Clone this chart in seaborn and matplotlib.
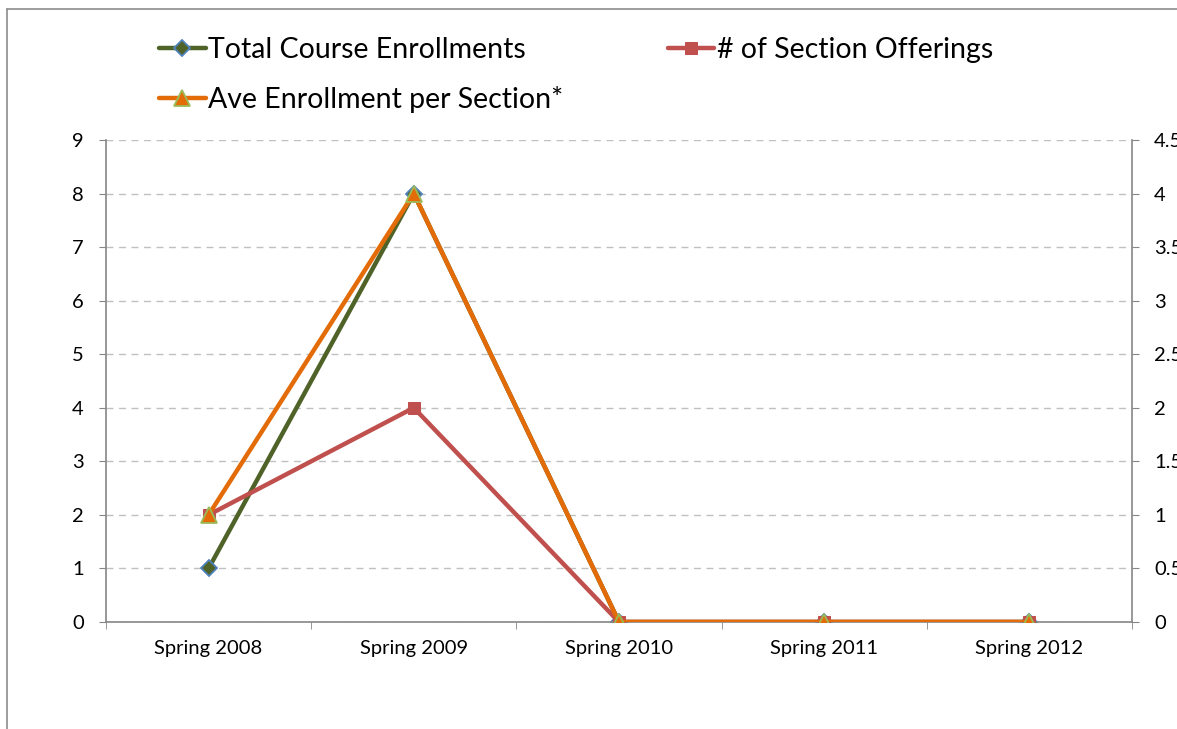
import matplotlib
matplotlib.use("Agg")
import matplotlib.pyplot as plt
from matplotlib.lines import Line2D
import seaborn as sns
import pandas as pd

terms = ["Spring 2008", "Spring 2009", "Spring 2010", "Spring 2011", "Spring 2012"]
total_enroll = [1, 8, 0, 0, 0]
sections = [1, 2, 0, 0, 0]
ave_enroll = [1, 4, 0, 0, 0]

df = pd.DataFrame({"term": terms, "total": total_enroll,
                   "sections": sections, "ave": ave_enroll})

sns.set_style("white")
plt.rcParams["font.family"] = ["Lato", "DejaVu Sans"]
plt.rcParams["text.color"] = "black"

fig = plt.figure(figsize=(11.77, 7.29), dpi=100)
ax = fig.add_axes([106/1177, 1-622/729, (1132-106)/1177, (622-140)/729])
ax2 = ax.twinx()

green, red, orange = "#4F6228", "#C0504D", "#E36C09"

sns.lineplot(data=df, x="term", y="total", ax=ax, color=green, lw=3.2,
             marker="D", markersize=8.5, markerfacecolor=green,
             markeredgecolor="#4F81BD", markeredgewidth=1.3, sort=False,
             label="Total Course Enrollments", legend=False)
sns.lineplot(data=df, x="term", y="sections", ax=ax2, color=red, lw=3.2,
             marker="s", markersize=8, markerfacecolor=red,
             markeredgecolor=red, sort=False,
             label="# of Section Offerings", legend=False)
sns.lineplot(data=df, x="term", y="ave", ax=ax2, color=orange, lw=3.2,
             marker="^", markersize=11.5, markerfacecolor=orange,
             markeredgecolor="#9BBB59", markeredgewidth=1.3, sort=False,
             label="Ave Enrollment per Section*", legend=False)

ax.set_xlim(-0.5, 4.5)
ax.set_ylim(0, 9)
ax2.set_ylim(0, 4.5)
ax.set_yticks(range(0, 10))
ax2.set_yticks([0, 0.5, 1, 1.5, 2, 2.5, 3, 3.5, 4, 4.5])
ax2.set_yticklabels(["0", "0.5", "1", "1.5", "2", "2.5", "3", "3.5", "4", "4.5"])
ax.set_xlabel("")
ax.set_ylabel("")
ax2.set_ylabel("")

ax.grid(axis="y", color="#C0C0C0", linestyle=(0, (5, 4)), lw=1)
ax.set_axisbelow(True)

spine_col = "#868686"
for a in (ax, ax2):
    for s in a.spines.values():
        s.set_visible(False)
ax.spines["left"].set_visible(True)
ax.spines["bottom"].set_visible(True)
ax2.spines["right"].set_visible(True)
for s in (ax.spines["left"], ax.spines["bottom"], ax2.spines["right"]):
    s.set_color(spine_col)
    s.set_linewidth(1.2)

ax.tick_params(axis="y", left=True, length=5, color=spine_col, pad=11,
               labelsize=14.5, labelcolor="black")
ax2.tick_params(axis="y", right=True, length=5, color=spine_col, pad=11,
                labelsize=14.5, labelcolor="black")
ax.set_xticks([0.5, 1.5, 2.5, 3.5, 4.5, -0.5], minor=True)
ax.tick_params(axis="x", which="major", length=0, pad=13, labelsize=14.5,
               labelcolor="black")
ax.tick_params(axis="x", which="minor", bottom=True, length=5, color=spine_col)

h1, l1 = ax.get_legend_handles_labels()
h2, l2 = ax2.get_legend_handles_labels()
handles = [h1[0], h2[1], h2[0]]
labels = [l1[0], l2[1], l2[0]]
fig.legend(handles, labels, ncol=2, loc="upper left",
           bbox_to_anchor=(133/1177, 1-11/729), frameon=False,
           fontsize=20.5, handlelength=1.65, handletextpad=0.1,
           columnspacing=3.65, labelspacing=0.83)

fig.add_artist(Line2D([7/1177, 7/1177], [0, 1-9/729], color="#8C8C8C", lw=1.2))
fig.add_artist(Line2D([7/1177, 1], [1-9/729, 1-9/729], color="#8C8C8C", lw=1.2))

fig.savefig("out.png", dpi=100)
